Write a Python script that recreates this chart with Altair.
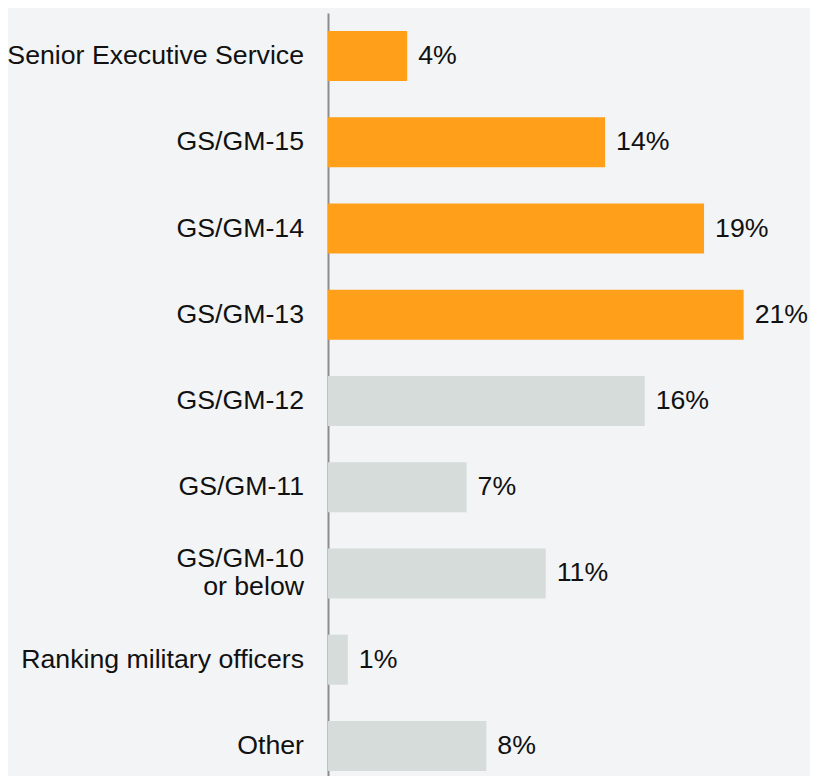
import altair as alt
import pandas as pd

categories = [
    "Senior Executive Service",
    "GS/GM-15",
    "GS/GM-14",
    "GS/GM-13",
    "GS/GM-12",
    "GS/GM-11",
    "GS/GM-10\nor below",
    "Ranking military officers",
    "Other",
]
values = [4, 14, 19, 21, 16, 7, 11, 1, 8]
highlight = ["yes", "yes", "yes", "yes", "no", "no", "no", "no", "no"]

df = pd.DataFrame({
    "cat": categories,
    "value": values,
    "hl": highlight,
    "vlabel": [f"{v}%" for v in values],
    "multi": [("\n" in c) for c in categories],
})

FONT = "Liberation Sans, Arial, sans-serif"
FS = 26.7

y_enc = alt.Y(
    "cat:N",
    sort=None,
    scale=alt.Scale(range=[0, 776], paddingInner=0.42, paddingOuter=0.21),
    axis=alt.Axis(
        title=None, labels=False, ticks=False, domain=True,
        domainColor="#8c8c8c", domainWidth=2, grid=False,
    ),
)
x_enc = alt.X(
    "value:Q",
    scale=alt.Scale(domain=[0, 24], nice=False, zero=True),
    axis=None,
)

base = alt.Chart(df)

bars = base.mark_bar().encode(
    x=x_enc,
    y=y_enc,
    color=alt.Color(
        "hl:N",
        scale=alt.Scale(domain=["yes", "no"], range=["#ff9f1a", "#d5dcda"]),
        legend=None,
    ),
)

vals = base.mark_text(
    align="left", baseline="middle", dx=11, font=FONT, fontSize=FS, color="#111111"
).encode(x=x_enc, y=y_enc, text="vlabel:N")

cats_single = base.transform_filter("!datum.multi").mark_text(
    align="right", baseline="middle", font=FONT, fontSize=FS, color="#111111",
).encode(x=alt.value(-24), y=y_enc, text="cat:N")

cats_multi = base.transform_filter("datum.multi").mark_text(
    align="right", baseline="middle", font=FONT, fontSize=FS, color="#111111",
    lineBreak="\n", lineHeight=28, dy=-14,
).encode(x=alt.value(-24), y=y_enc, text="cat:N")

chart = (
    alt.layer(bars, vals, cats_single, cats_multi)
    .properties(
        width=475,
        height=763,
        autosize=alt.AutoSizeParams(type="none"),
        padding={"left": 320, "top": 5, "right": 7, "bottom": 0},
        background="#f2f4f5",
    )
    .configure_view(stroke=None)
)

chart.save("out.html", embed_options={"renderer": "svg", "actions": False})
